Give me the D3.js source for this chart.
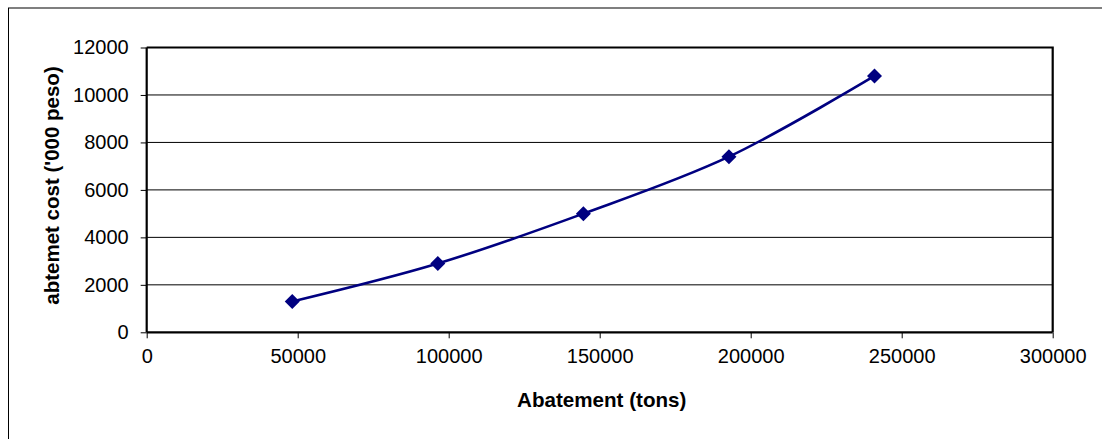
<!DOCTYPE html>
<html>
<head>
<meta charset="utf-8">
<script src="https://cdn.jsdelivr.net/npm/d3@7/dist/d3.min.js"></script>
<style>
  html, body { margin: 0; padding: 0; background: #fff; }
  svg { display: block; font-family: "Liberation Sans", Arial, sans-serif; }
</style>
</head>
<body>
<svg id="chart" width="1102" height="439"></svg>
<script>
// ---- data ----
const abatement = [48200, 96400, 144600, 192800, 241000];
const cost = [1300, 2900, 5000, 7400, 10800];
const xTicks = [0, 50000, 100000, 150000, 200000, 250000, 300000];
const yTicks = [0, 2000, 4000, 6000, 8000, 10000, 12000];
const xTitle = "Abatement (tons)";
const yTitle = "abtemet cost ('000 peso)";

const svg = d3.select("#chart");
const plot = { left: 146.7, right: 1052.7, top: 47.5, bottom: 332.3 };

// outer frame
svg.append("rect").attr("x", 8.5).attr("y", 8).attr("width", 1100).attr("height", 440)
  .attr("fill", "#fff").attr("stroke", "#000").attr("stroke-width", 1);

const x = d3.scaleLinear().domain([0, 300000]).range([plot.left, plot.right]);
const y = d3.scaleLinear().domain([0, 12000]).range([plot.bottom, plot.top]);

// gridlines
svg.append("g").selectAll("line").data(yTicks.filter(d => d > 0 && d < 12000)).join("line")
  .attr("x1", plot.left).attr("x2", plot.right)
  .attr("y1", d => y(d)).attr("y2", d => y(d))
  .attr("stroke", "#000").attr("stroke-width", 1);

// plot frame (top, right)
svg.append("path")
  .attr("d", `M${plot.left},${plot.top}H${plot.right}V${plot.bottom}`)
  .attr("fill", "none").attr("stroke", "#000").attr("stroke-width", 2.2);

// y axis
const yAxis = d3.axisLeft(y).tickValues(yTicks).tickFormat(d3.format("d")).tickSize(6).tickPadding(12);
const gy = svg.append("g").attr("transform", `translate(${plot.left},0)`).call(yAxis);
gy.select(".domain").attr("stroke-width", 2.2).attr("d", `M0,${plot.top}V${plot.bottom}`);
gy.selectAll(".tick line").attr("stroke-width", 1);
gy.selectAll("text").attr("font-size", 20).attr("fill", "#000")
  .attr("font-family", "Liberation Sans, Arial, sans-serif");

// x axis
const xAxis = d3.axisBottom(x).tickValues(xTicks).tickFormat(d3.format("d")).tickSize(6).tickPadding(11);
const gx = svg.append("g").attr("transform", `translate(0,${plot.bottom})`).call(xAxis);
gx.select(".domain").attr("stroke-width", 2.2).attr("d", `M${plot.left},0H${plot.right}`);
gx.selectAll(".tick line").attr("stroke-width", 1);
gx.selectAll("text").attr("font-size", 20).attr("fill", "#000")
  .attr("font-family", "Liberation Sans, Arial, sans-serif");

// titles
svg.append("text").attr("x", 601.7).attr("y", 406.5).attr("text-anchor", "middle")
  .attr("font-size", 20.6).attr("font-weight", "bold").text(xTitle);
svg.append("text").attr("transform", "translate(59,185.5) rotate(-90)").attr("text-anchor", "middle")
  .attr("font-size", 20.5).attr("font-weight", "bold").text(yTitle);

// series
const pts = abatement.map((a, i) => [a, cost[i]]);
const line = d3.line().x(d => x(d[0])).y(d => y(d[1])).curve(d3.curveCatmullRom.alpha(0.5));
svg.append("path").datum(pts).attr("d", line)
  .attr("fill", "none").attr("stroke", "#000080").attr("stroke-width", 2.6);

svg.append("g").selectAll("path").data(pts).join("path")
  .attr("transform", d => `translate(${x(d[0])},${y(d[1])})`)
  .attr("d", "M0,-7.5L7.5,0L0,7.5L-7.5,0Z")
  .attr("fill", "#000080");
</script>
</body>
</html>
